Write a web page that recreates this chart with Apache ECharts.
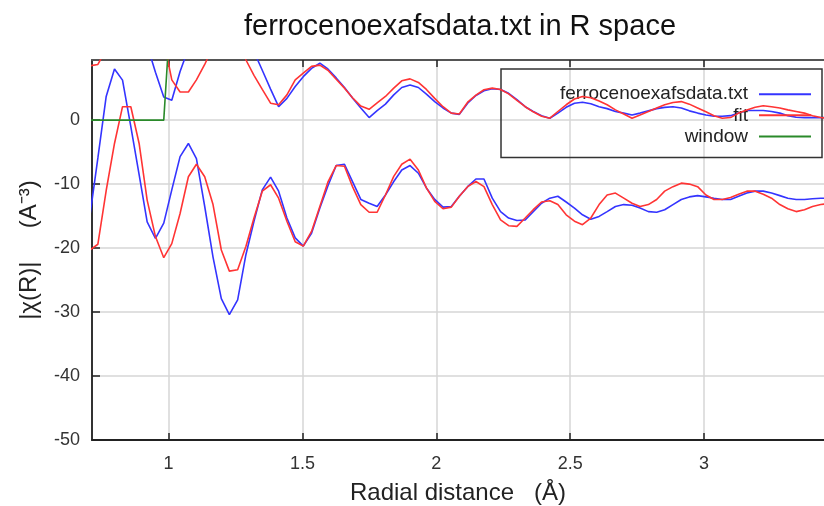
<!DOCTYPE html>
<html><head><meta charset="utf-8">
<script src="https://cdn.jsdelivr.net/npm/echarts@6/dist/echarts.min.js"></script>
<style>html,body{margin:0;padding:0;background:#fff}#c{width:824px;height:506px}</style>
</head><body><div id="c"></div>
<script>
const rGrid = [0.706,0.736,0.767,0.798,0.828,0.859,0.890,0.920,0.951,0.982,
1.012,1.043,1.074,1.104,1.135,1.166,1.197,1.227,1.258,1.289,
1.319,1.350,1.381,1.411,1.442,1.473,1.503,1.534,1.565,1.595,
1.626,1.657,1.687,1.718,1.749,1.779,1.810,1.841,1.871,1.902,
1.933,1.963,1.994,2.025,2.056,2.086,2.117,2.148,2.178,2.209,
2.240,2.270,2.301,2.332,2.362,2.393,2.424,2.454,2.485,2.516,
2.546,2.577,2.608,2.638,2.669,2.700,2.731,2.761,2.792,2.823,
2.853,2.884,2.915,2.945,2.976,3.007,3.037,3.068,3.099,3.129,
3.160,3.191,3.221,3.252,3.283,3.313,3.344,3.375,3.405,3.436,3.467];

const dataMag = [15.0,17.0,19.0,20.5,21.0,20.0,17.0,11.7,7.5,3.6,
3.1,7.6,11.2,15.0,18.5,20.5,21.0,20.0,17.0,13.5,
10.7,7.8,4.85,2.1,3.4,5.25,6.8,8.1,8.9,8.0,
6.6,5.1,3.45,1.9,0.4,1.5,2.5,3.95,5.1,5.5,
5.1,4.06,2.9,1.9,1.1,0.9,2.65,3.85,4.6,4.9,
4.8,4.2,3.2,2.1,1.35,0.7,0.3,1.1,2.0,2.65,
2.8,2.55,2.1,1.8,1.35,1.1,0.8,1.1,1.45,1.8,
2.0,2.1,1.9,1.45,1.1,0.8,0.6,0.6,0.7,1.1,
1.5,1.5,1.5,1.35,1.1,0.7,0.45,0.4,0.4,0.4,0.4];

const dataRe = [-15.0,-5.9,3.7,8.0,6.25,-1.0,-8.5,-15.9,-18.5,-16.1,
-10.9,-5.7,-3.65,-6.0,-13.5,-21.4,-27.9,-30.4,-28.1,-21.0,
-15.8,-10.9,-8.9,-11.1,-15.3,-18.4,-19.7,-17.7,-13.75,-10.3,
-7.1,-6.9,-9.6,-12.4,-13.0,-13.5,-11.7,-9.6,-7.8,-7.1,
-8.3,-10.6,-12.4,-13.6,-13.5,-11.9,-10.4,-9.2,-9.2,-12.2,
-14.3,-15.3,-15.7,-15.6,-14.3,-13.0,-12.2,-11.9,-12.8,-13.75,
-14.8,-15.5,-15.05,-14.3,-13.5,-13.2,-13.3,-13.75,-14.3,-14.4,
-14.0,-13.2,-12.4,-12.0,-11.8,-12.0,-12.2,-12.4,-12.4,-11.9,
-11.4,-11.1,-11.1,-11.4,-11.8,-12.2,-12.4,-12.4,-12.3,-12.2,-12.2];

const fitMag = [8.5,8.7,11.1,15.0,18.0,19.0,19.0,17.5,15.0,12.5,
6.3,4.4,4.4,6.3,8.7,11.5,15.0,17.0,15.5,9.4,
7.0,4.8,2.65,2.4,3.95,6.3,7.35,8.4,8.6,7.8,
6.4,5.0,3.5,2.2,1.7,2.7,3.7,5.0,6.15,6.45,
5.9,4.8,3.4,2.1,1.1,0.95,2.8,3.9,4.75,5.0,
4.8,4.1,3.1,2.1,1.3,0.6,0.3,1.35,2.4,3.3,
3.7,3.5,3.0,2.4,1.6,0.95,0.3,0.8,1.35,1.9,
2.4,2.75,2.9,2.5,1.9,1.3,0.7,0.3,0.4,1.1,
1.6,2.0,2.25,2.1,1.9,1.6,1.35,1.1,0.7,0.4,0.3];

const fitRe = [-20.3,-19.4,-11.0,-3.65,2.1,2.1,-3.65,-12.5,-18.2,-21.5,
-19.3,-14.6,-8.85,-6.9,-8.85,-13.2,-20.3,-23.6,-23.4,-19.7,
-15.3,-11.1,-10.1,-12.2,-15.8,-19.0,-19.7,-17.4,-13.5,-9.7,
-7.1,-7.2,-10.4,-13.2,-14.4,-14.4,-11.7,-8.8,-6.9,-6.1,
-7.8,-10.6,-12.7,-13.85,-13.6,-11.9,-10.4,-9.6,-10.4,-13.2,
-15.6,-16.5,-16.6,-15.3,-14.0,-12.8,-12.6,-13.2,-14.8,-15.8,
-16.35,-15.3,-13.2,-11.7,-11.4,-12.2,-13.0,-13.5,-13.2,-12.4,
-11.1,-10.4,-9.85,-10.0,-10.4,-11.7,-12.4,-12.4,-12.1,-11.6,
-11.1,-11.1,-11.6,-12.2,-13.2,-13.85,-14.3,-14.0,-13.5,-13.2,-13.0];

const windowVals = [0,0,0,0,0,0,0,0,0,0,
20,20,20,20,20,20,20,20,20,20,20,20,20,20,20,20,20,20,20,20,
20,20,20,20,20,20,20,20,20,20,20,20,20,20,20,20,20,20,20,20,
20,20,20,20,20,20,20,20,20,20,20,20,20,20,20,20,20,20,20,20,
20,20,20,20,20,20,20,20,20,20,20,20,20,20,20,20,20,20,20,20,20];

const xTicks = [1, 1.5, 2, 2.5, 3];
const yTicks = [-50, -40, -30, -20, -10, 0];
const seriesNames = ['ferrocenoexafsdata.txt', 'fit', 'window'];

const FONT = '"Liberation Sans", Arial, sans-serif';
const BLUE = '#3434ff', RED = '#ff3434', GREEN = '#2a8a2a';
const pair = arr => rGrid.map((r, i) => [r, arr[i]]);

const chart = echarts.init(document.getElementById('c'), null, {renderer: 'canvas'});
const lineSeries = (name, vals, color, z) => ({
  type: 'line', name: name, data: pair(vals), symbol: 'none', clip: true,
  lineStyle: {color: color, width: 1.6}, itemStyle: {color: color},
  animation: false, z: z
});

chart.setOption({
  backgroundColor: '#fff',
  animation: false,
  title: {
    text: 'ferrocenoexafsdata.txt in R space',
    left: 460, top: 12, textAlign: 'center', padding: 0,
    textStyle: {fontSize: 29, fontWeight: 'normal', color: '#111', fontFamily: FONT}
  },
  legend: {
    orient: 'vertical', right: 2, top: 69, align: 'right',
    itemWidth: 52, itemHeight: 14, itemGap: 2.1,
    padding: [15.7, 10, 11.5, 59],
    borderColor: '#333', borderWidth: 1.5, backgroundColor: 'transparent',
    itemStyle: {opacity: 0},
    textStyle: {fontSize: 19, color: '#222', fontFamily: FONT, padding: [0, 6, 0, 0]},
    data: seriesNames
  },
  grid: {left: 92, right: 0, top: 60, bottom: 66, containLabel: false, outerBoundsMode: 'none'},
  xAxis: [{
    type: 'value', min: 0.714, max: 3.448, position: 'bottom',
    name: 'Radial distance   (Å)', nameLocation: 'middle', nameGap: 41,
    nameTextStyle: {fontSize: 24, color: '#222', fontFamily: FONT},
    axisLine: {show: true, onZero: false, lineStyle: {color: '#222', width: 2}},
    axisTick: {show: true, inside: true, length: 7, customValues: xTicks, lineStyle: {color: '#222', width: 1.5}},
    axisLabel: {customValues: xTicks, fontSize: 18, color: '#333', margin: 15, fontFamily: FONT},
    splitLine: {show: true, lineStyle: {color: '#d6d6d6', width: 1.5}}
  }, {
    type: 'value', min: 0.714, max: 3.448, position: 'top',
    axisLine: {show: true, onZero: false, lineStyle: {color: '#555', width: 2}},
    axisTick: {show: true, inside: true, length: 7, customValues: xTicks, lineStyle: {color: '#222', width: 1.5}},
    axisLabel: {show: false}, splitLine: {show: false}
  }],
  yAxis: {
    type: 'value', min: -50, max: 9.4, interval: 10,
    name: '|χ(R)|     (A⁻³)', nameLocation: 'middle', nameGap: 51, nameRotate: 90,
    nameTextStyle: {fontSize: 24, color: '#222', fontFamily: FONT},
    axisLine: {show: true, onZero: false, lineStyle: {color: '#333', width: 2}},
    axisTick: {show: true, inside: true, length: 8, customValues: yTicks, lineStyle: {color: '#222', width: 1.5}},
    axisLabel: {customValues: yTicks, fontSize: 18, color: '#333', margin: 12, fontFamily: FONT},
    splitLine: {show: true, lineStyle: {color: '#d6d6d6', width: 1.5}}
  },
  series: [
    lineSeries(seriesNames[0], dataMag, BLUE, 3),
    lineSeries(seriesNames[0], dataRe, BLUE, 3),
    lineSeries(seriesNames[1], fitMag, RED, 4),
    lineSeries(seriesNames[1], fitRe, RED, 4),
    lineSeries(seriesNames[2], windowVals, GREEN, 5)
  ]
});
</script></body></html>
